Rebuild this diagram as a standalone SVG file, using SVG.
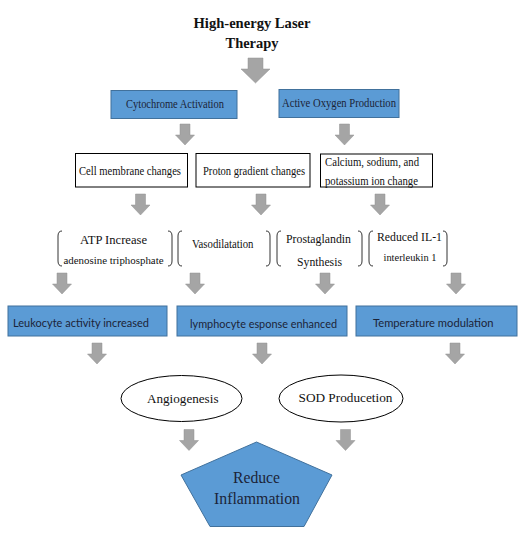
<svg xmlns="http://www.w3.org/2000/svg" xmlns:xlink="http://www.w3.org/1999/xlink" width="528" height="536" viewBox="0 0 528 536">
<style>
.serif{font-family:"Liberation Serif","Times New Roman",serif;}
.sans{font-family:Lato,"Liberation Sans",sans-serif;}
.blue{fill:#5b9bd5;stroke:#41719c;stroke-width:1;}
.wbox{fill:#ffffff;stroke:#000000;stroke-width:1;}
.brk{fill:none;stroke:#333333;stroke-width:1;}
.arr{fill:#a5a5a5;stroke:#939393;stroke-width:0.5;}
.dk{fill:#1b2438;}
.bk{fill:#111111;}
</style>
<defs>
<path id="ar" class="arr" d="M-5,0 H5 V11 H9.5 L0,21 L-9.5,11 H-5 Z"/>
</defs>
<rect width="528" height="536" fill="#ffffff"/>

<g id="title">
<text class="serif bk" x="252" y="28" font-size="14.5" font-weight="bold" text-anchor="middle" textLength="117" lengthAdjust="spacingAndGlyphs">High-energy Laser</text>
<text class="serif bk" x="252" y="47.5" font-size="14.5" font-weight="bold" text-anchor="middle" textLength="53" lengthAdjust="spacingAndGlyphs">Therapy</text>
</g>

<g id="cytochrome">
<rect class="blue" x="111" y="90.5" width="126" height="28"/>
<text class="serif dk" x="126" y="107.5" font-size="12" textLength="98" lengthAdjust="spacingAndGlyphs">Cytochrome Activation</text>
</g>
<g id="active-oxygen">
<rect class="blue" x="279" y="89.5" width="120" height="28"/>
<text class="serif dk" x="282" y="107" font-size="12" textLength="114" lengthAdjust="spacingAndGlyphs">Active Oxygen Production</text>
</g>

<g id="cell-membrane">
<rect class="wbox" x="75.5" y="153.5" width="112" height="33.5"/>
<text class="serif bk" x="79" y="174.5" font-size="12" textLength="102" lengthAdjust="spacingAndGlyphs">Cell membrane changes</text>
</g>
<g id="proton-gradient">
<rect class="wbox" x="196" y="153.5" width="114" height="33.5"/>
<text class="serif bk" x="203" y="175" font-size="12" textLength="102" lengthAdjust="spacingAndGlyphs">Proton gradient changes</text>
</g>
<g id="ion-change">
<rect class="wbox" x="320.5" y="154" width="112" height="33"/>
<text class="serif bk" x="325" y="165.5" font-size="12" textLength="94" lengthAdjust="spacingAndGlyphs">Calcium, sodium, and</text>
<text class="serif bk" x="325" y="185" font-size="12" textLength="93" lengthAdjust="spacingAndGlyphs">potassium ion change</text>
</g>

<g id="atp">
<path class="brk" d="M62,231 Q58,231 58,236 V261 Q58,266 62,266"/>
<path class="brk" d="M168,231 Q172,231 172,236 V261 Q172,266 168,266"/>
<text class="serif bk" x="80" y="244" font-size="13" textLength="67" lengthAdjust="spacingAndGlyphs">ATP Increase</text>
<text class="serif bk" x="63.5" y="263.5" font-size="10" textLength="100" lengthAdjust="spacingAndGlyphs">adenosine triphosphate</text>
</g>
<g id="vasodilatation">
<path class="brk" d="M182,231 Q178,231 178,236 V261 Q178,266 182,266"/>
<path class="brk" d="M266,231 Q270,231 270,236 V261 Q270,266 266,266"/>
<text class="serif bk" x="192" y="248" font-size="12.5" textLength="61.5" lengthAdjust="spacingAndGlyphs">Vasodilatation</text>
</g>
<g id="prostaglandin">
<path class="brk" d="M281,231 Q277,231 277,236 V261 Q277,266 281,266"/>
<path class="brk" d="M358,231 Q362,231 362,236 V261 Q362,266 358,266"/>
<text class="serif bk" x="286" y="243" font-size="13" textLength="65" lengthAdjust="spacingAndGlyphs">Prostaglandin</text>
<text class="serif bk" x="297" y="265.5" font-size="13" textLength="45" lengthAdjust="spacingAndGlyphs">Synthesis</text>
</g>
<g id="reduced-il1">
<path class="brk" d="M373,231 Q369,231 369,236 V261 Q369,266 373,266"/>
<path class="brk" d="M443,231 Q447,231 447,236 V261 Q447,266 443,266"/>
<text class="serif bk" x="377" y="241" font-size="13" textLength="65" lengthAdjust="spacingAndGlyphs">Reduced IL-1</text>
<text class="serif bk" x="383.5" y="261" font-size="10.5" textLength="53" lengthAdjust="spacingAndGlyphs">interleukin 1</text>
</g>

<g id="leukocyte">
<rect class="blue" x="8" y="306" width="159" height="30"/>
<text class="sans dk" x="13" y="327" font-size="12" textLength="136" lengthAdjust="spacingAndGlyphs">Leukocyte activity increased</text>
</g>
<g id="lymphocyte">
<rect class="blue" x="177" y="306" width="170" height="30"/>
<text class="sans dk" x="190" y="327.5" font-size="12" textLength="147" lengthAdjust="spacingAndGlyphs">lymphocyte esponse enhanced</text>
</g>
<g id="temperature">
<rect class="blue" x="356" y="306" width="161" height="30"/>
<text class="sans dk" x="373" y="327" font-size="12" textLength="120.5" lengthAdjust="spacingAndGlyphs">Temperature modulation</text>
</g>

<g id="angiogenesis">
<ellipse cx="181.5" cy="398.5" rx="60.5" ry="23" fill="#ffffff" stroke="#000000" stroke-width="1"/>
<text class="serif bk" x="147" y="402.5" font-size="13" textLength="71.5" lengthAdjust="spacingAndGlyphs">Angiogenesis</text>
</g>
<g id="sod">
<ellipse cx="341" cy="398.5" rx="62" ry="23.5" fill="#ffffff" stroke="#000000" stroke-width="1"/>
<text class="serif bk" x="298.5" y="402" font-size="13" textLength="94" lengthAdjust="spacingAndGlyphs">SOD Producetion</text>
</g>

<g id="reduce-inflammation">
<polygon class="blue" points="256.5,442 332,475 304,526.5 210,526.5 181,475"/>
<text class="serif dk" x="256.5" y="482.5" font-size="16" text-anchor="middle" textLength="47" lengthAdjust="spacingAndGlyphs">Reduce</text>
<text class="serif dk" x="257" y="503.5" font-size="16" text-anchor="middle" textLength="86" lengthAdjust="spacingAndGlyphs">Inflammation</text>
</g>

<g id="connectors">
<path class="arr" d="M248,58 H263 V69 H270 L255.5,83 L241,69 H248 Z"/>
<use xlink:href="#ar" x="185" y="124"/>
<use xlink:href="#ar" x="344.5" y="124"/>
<use xlink:href="#ar" x="140.5" y="194"/>
<use xlink:href="#ar" x="261" y="194"/>
<use xlink:href="#ar" x="380" y="194"/>
<use xlink:href="#ar" x="62" y="273"/>
<use xlink:href="#ar" x="195" y="273"/>
<use xlink:href="#ar" x="325" y="273"/>
<use xlink:href="#ar" x="456" y="273"/>
<use xlink:href="#ar" x="97" y="343"/>
<use xlink:href="#ar" x="262" y="343"/>
<use xlink:href="#ar" x="455" y="343"/>
<use xlink:href="#ar" x="189" y="429.5"/>
<use xlink:href="#ar" x="345.5" y="429.5"/>
</g>
</svg>
